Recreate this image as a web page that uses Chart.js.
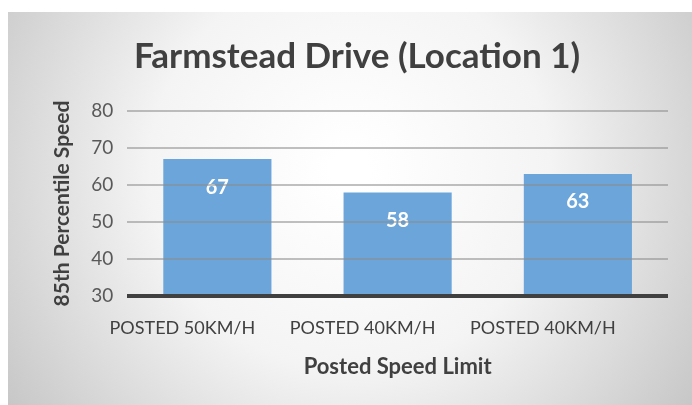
<!DOCTYPE html>
<html>
<head>
<meta charset="utf-8">
<script src="https://cdn.jsdelivr.net/npm/chart.js@4"></script>
<style>
  html, body { margin: 0; padding: 0; background: #fff; }
  #wrap { width: 692px; height: 405px; }
</style>
</head>
<body>
<div id="wrap"><canvas id="speedChart" width="692" height="405"></canvas></div>
<script>
const categories = ["POSTED 50KM/H", "POSTED 40KM/H", "POSTED 40KM/H"];
const speeds = [67, 58, 63];
const yTicks = [30, 40, 50, 60, 70, 80];

const FONT = "Lato, 'Open Sans', sans-serif";

// gray radial backdrop like the office chart frame
const backdrop = {
  id: "backdrop",
  beforeDraw(chart) {
    const { ctx, width, height } = chart;
    ctx.save();
    ctx.fillStyle = "#fff";
    ctx.fillRect(0, 0, width, height);
    const g = ctx.createRadialGradient(350, 170, 20, 350, 170, 420);
    g.addColorStop(0, "#ffffff");
    g.addColorStop(0.45, "#f4f4f4");
    g.addColorStop(1, "#c6c6c6");
    ctx.fillStyle = g;
    ctx.fillRect(8, 12, width - 8, height - 12);
    ctx.restore();
  }
};

// white value labels inside the top of each bar
const barLabels = {
  id: "barLabels",
  afterDatasetsDraw(chart) {
    const { ctx } = chart;
    const meta = chart.getDatasetMeta(0);
    ctx.save();
    ctx.fillStyle = "#fff";
    ctx.font = "bold 20px " + FONT;
    ctx.textAlign = "center";
    ctx.textBaseline = "middle";
    meta.data.forEach((bar, i) => {
      ctx.fillText(speeds[i], bar.x, bar.y + 28);
    });
    ctx.restore();
  }
};

new Chart(document.getElementById("speedChart"), {
  type: "bar",
  data: {
    labels: categories,
    datasets: [{
      data: speeds,
      backgroundColor: "#6ca5da",
      borderWidth: 0,
      categoryPercentage: 0.6,
      barPercentage: 1
    }]
  },
  options: {
    responsive: false,
    animation: false,
    layout: { autoPadding: false, padding: { left: 46, right: 24, top: 28, bottom: 21 } },
    plugins: {
      legend: { display: false },
      tooltip: { enabled: false },
      title: {
        display: true,
        text: "Farmstead Drive (Location 1)",
        color: "#404040",
        font: { family: FONT, size: 35, weight: "bold" },
        padding: { top: 8, bottom: 33 }
      }
    },
    scales: {
      y: {
        min: 30,
        max: 80,
        afterBuildTicks(axis) { axis.ticks = yTicks.map(v => ({ value: v })); },
        ticks: {
          color: "#595959",
          font: { family: FONT, size: 19 },
          padding: 14
        },
        grid: {
          color: ctx => ctx.tick && ctx.tick.value === 30 ? "#404040" : "rgba(140,140,140,0.55)",
          lineWidth: ctx => ctx.tick && ctx.tick.value === 30 ? 4 : 2,
          drawTicks: false,
          z: 1
        },
        border: { display: false },
        title: {
          display: true,
          text: "85th Percentile Speed",
          color: "#404040",
          font: { family: FONT, size: 21, weight: "bold" },
          padding: { bottom: 2 }
        }
      },
      x: {
        ticks: {
          color: "#404040",
          font: { family: FONT, size: 18 },
          padding: 13,
          labelOffset: -35
        },
        grid: { display: false },
        border: { display: false },
        title: {
          display: true,
          text: "Posted Speed Limit",
          color: "#404040",
          font: { family: FONT, size: 22, weight: "bold" },
          padding: { top: 2 }
        }
      }
    }
  },
  plugins: [backdrop, barLabels]
});
</script>
</body>
</html>
